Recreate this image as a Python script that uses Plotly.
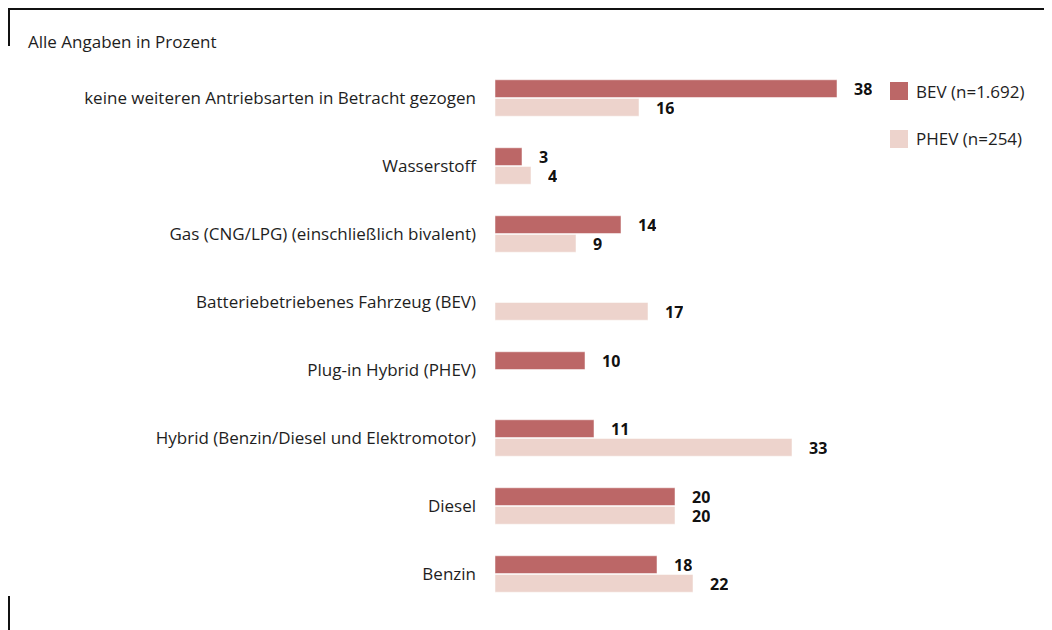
import plotly.graph_objects as go

# Daten
kategorien = [
    "keine weiteren Antriebsarten in Betracht gezogen",
    "Wasserstoff",
    "Gas (CNG/LPG) (einschließlich bivalent)",
    "Batteriebetriebenes Fahrzeug (BEV)",
    "Plug-in Hybrid (PHEV)",
    "Hybrid (Benzin/Diesel und Elektromotor)",
    "Diesel",
    "Benzin",
]
bev_werte = [38, 3, 14, None, 10, 11, 20, 18]
phev_werte = [16, 4, 9, 17, None, 33, 20, 22]
serien_namen = ["BEV (n=1.692)", "PHEV (n=254)"]
farben = ["#BC6767", "#EDD3CC"]

# Seite hat 8px Rand, Figur daher etwas kleiner
OFF = 8
W, H = 1052 - OFF, 630 - OFF
L, R, T, B = 495 - OFF, 197, 64 - OFF, 22
X_MAX = 40
SCHRIFT = "Open Sans, Noto Sans, sans-serif"
TEXTFARBE = "#1e1e1e"

def px_x(x):
    # Pixel im Screenshot -> paper
    return (x - OFF - L) / (W - L - R)

def px_y(y):
    return (H - B - (y - OFF)) / (H - T - B)

pos = list(range(len(kategorien)))
bargap = 0.45
halb = (1 - bargap) / 4

fig = go.Figure()
for i, (name, werte, farbe) in enumerate(zip(serien_namen, [bev_werte, phev_werte], farben)):
    fig.add_trace(go.Bar(
        y=pos, x=werte, name=name, orientation="h",
        marker=dict(color=farbe, line=dict(color="white", width=0.5)),
        showlegend=False,
    ))
    versatz = -halb if i == 0 else halb
    for p, v in zip(pos, werte):
        if v is None:
            continue
        fig.add_annotation(
            x=v, y=p + versatz, text="<b>%d</b>" % v, showarrow=False,
            xanchor="left", yanchor="middle", xshift=15, height=17,
            font=dict(family=SCHRIFT, size=16, color="#111111"),
        )

    # eigene Legende
    oben = 82 + i * 48
    fig.add_shape(type="rect", xref="paper", yref="paper",
                  x0=px_x(890), x1=px_x(908), y0=px_y(oben), y1=px_y(oben + 18),
                  fillcolor=farbe, line=dict(width=0))
    fig.add_annotation(
        x=px_x(914), y=px_y(oben + 9), xref="paper", yref="paper",
        text=name, showarrow=False, xanchor="left", yanchor="middle",
        font=dict(family=SCHRIFT, size=17, color=TEXTFARBE),
    )

fig.update_layout(
    width=W, height=H,
    margin=dict(l=L, r=R, t=T, b=B),
    barmode="group", bargap=bargap, bargroupgap=0.05,
    plot_bgcolor="white", paper_bgcolor="white",
    font=dict(family=SCHRIFT, size=17, color=TEXTFARBE),
    xaxis=dict(range=[0, X_MAX], visible=False, fixedrange=True),
    yaxis=dict(
        tickvals=pos, ticktext=kategorien, autorange="reversed",
        showgrid=False, zeroline=False, showline=False,
        ticks="", ticklabelstandoff=18,
        tickfont=dict(size=17, color=TEXTFARBE),
    ),
    showlegend=False,
)

fig.add_annotation(
    x=px_x(26), y=px_y(42), xref="paper", yref="paper",
    text="Alle Angaben in Prozent", showarrow=False,
    xanchor="left", yanchor="middle",
    font=dict(family=SCHRIFT, size=17, color=TEXTFARBE),
)

# Rahmenlinien (Figur beginnt erst bei Pixel 8)
linie = dict(color="#111111", width=2)
fig.add_shape(type="line", xref="paper", yref="paper",
              x0=px_x(9), x1=px_x(1052), y0=px_y(9), y1=px_y(9), line=linie)
fig.add_shape(type="line", xref="paper", yref="paper",
              x0=px_x(9), x1=px_x(9), y0=px_y(8), y1=px_y(46), line=linie)
fig.add_shape(type="line", xref="paper", yref="paper",
              x0=px_x(9), x1=px_x(9), y0=px_y(596), y1=px_y(630), line=linie)

fig.write_html("out.html")
